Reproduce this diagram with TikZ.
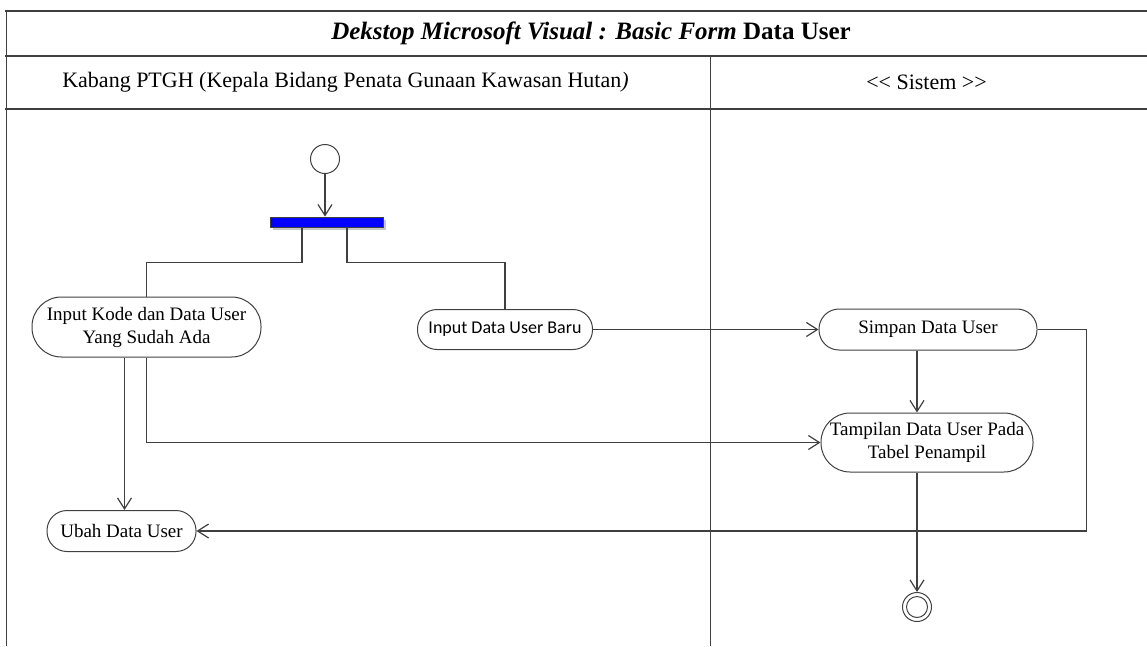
\documentclass[tikz,border=0pt]{standalone}
\usepackage{fontspec}
\setmainfont{Liberation Serif}
\newfontfamily\calibrifont{Carlito}
\usetikzlibrary{arrows.meta}
\definecolor{linegray}{RGB}{64,64,64}
\definecolor{shadowgray}{RGB}{200,200,200}
\begin{document}
\begin{tikzpicture}[x=1pt,y=-1pt,
  frame/.style={draw=linegray, line width=1.5pt},
  ln/.style={draw=linegray, line width=1.2pt},
  arr/.style={ln, -{Straight Barb[length=11pt,width=14pt,line width=1.2pt]}},
  act/.style={draw=linegray, line width=1pt, rounded corners=#1, align=center, inner sep=0pt, font=\fontsize{19}{23}\selectfont},
  hdr/.style={font=\fontsize{22}{26}\selectfont, inner sep=0pt},
]
\useasboundingbox (0,0) rectangle (1147,646);
% frame
\draw[frame] (5,11) -- (1147,11);
\draw[frame] (5,56) -- (1147,56);
\draw[frame] (5,109) -- (1147,109);
\draw[frame] (6.5,11) -- (6.5,646);
\draw[frame] (710.5,56) -- (710.5,646);
% headers
\node[font=\fontsize{25}{29}\selectfont, inner sep=0pt] (title) at (591,33) {\textbf{\textit{Dekstop Microsoft Visual : Basic Form}} \textbf{Data User}};
\node[hdr] (lane1) at (345.5,82) {Kabang PTGH (Kepala Bidang Penata Gunaan Kawasan Hutan\textit{)}};
\node[hdr] (lane2) at (926.5,82) {{<}{<} Sistem {>}{>}};
% start and fork
\node[draw=linegray, line width=1pt, circle, minimum size=29pt, inner sep=0pt] (start) at (325,159) {};
\fill[shadowgray] (273,220) rectangle (386,230);
\node[draw=linegray, line width=0.8pt, fill=blue, minimum width=113pt, minimum height=10pt, inner sep=0pt] (bar) at (326.5,222) {};
% activities
\node[act=29.5pt, minimum width=229pt, minimum height=60pt] (A) at (146.5,327) {Input Kode dan Data User\\Yang Sudah Ada};
\node[act=19.5pt, minimum width=175pt, minimum height=40pt, font=\calibrifont\fontsize{18}{22}\selectfont] (B) at (505,329.5) {Input Data User Baru};
\node[act=20pt, minimum width=218pt, minimum height=41pt] (C) at (928,329.5) {Simpan Data User};
\node[act=29pt, minimum width=212pt, minimum height=59pt] (D) at (927,442.5) {Tampilan Data User Pada\\Tabel Penampil};
\node[act=20pt, minimum width=149pt, minimum height=41pt] (E) at (121.5,531) {Ubah Data User};
% end
\node[draw=linegray, line width=1pt, circle, minimum size=29pt, inner sep=0pt] (end) at (917,607) {};
\draw[draw=linegray, line width=1pt] (end.center) circle (10.5pt);
% connectors
\draw[arr] (start) -- (start |- bar.north);
\draw[ln] ([xshift=-24.5pt]bar.south) -- ++(0,35) -| (A.north);
\draw[ln] ([xshift=20.5pt]bar.south) -- ++(0,35) -| (B.north);
\draw[arr] (B.east) -- (B.east -| C.west);
\draw[arr] ([xshift=-22pt]A.south) -- ([xshift=-22pt]A.south |- E.north);
\draw[arr] (A.south) |- (D.west);
\draw[arr] ([xshift=-11pt]C.south) -- ([xshift=-11pt]C.south |- D.north);
\draw[arr] (C.east) -- ++(49,0) |- (E.east);
\draw[arr] (D.south -| end) -- (end.north);
\end{tikzpicture}
\end{document}
